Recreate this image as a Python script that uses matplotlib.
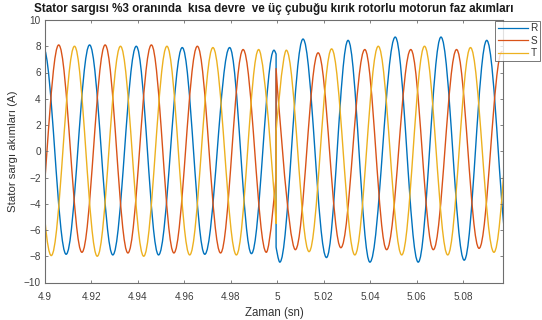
import matplotlib
matplotlib.use("Agg")
import matplotlib.pyplot as plt
from matplotlib.path import Path
from matplotlib.patches import PathPatch
from matplotlib.lines import Line2D

# ---------------- data ----------------
# Extrema (and the jump at t~5.0) of each phase current: time [s], value [A]
R_t = [4.8993, 4.9091, 4.9192, 4.9292, 4.9393, 4.9489, 4.9591, 4.9688, 4.9795,
       4.9889, 4.9986, 4.9995, 4.9995, 5.0011, 5.0111, 5.0212, 5.0305, 5.0399,
       5.0508, 5.0607, 5.0705, 5.0805, 5.0902, 5.1000]
R_v = [7.9, -7.85, 8.1, -7.9, 8.0, -7.9, 7.9, -7.85, 7.9,
       -7.8, 7.7, 7.4, -7.3, -8.45, 8.55, -8.1, 8.45, -8.45,
       8.7, -8.45, 8.7, -8.3, 8.45, -8.1]

S_t = [4.8959, 4.9059, 4.9159, 4.9259, 4.9357, 4.9458, 4.9555, 4.9656, 4.9756,
       4.9853, 4.9953, 4.9995, 4.9995, 5.0078, 5.0176, 5.0274, 5.0377, 5.0471,
       5.0575, 5.0672, 5.0772, 5.0869, 5.0968]
S_v = [-7.8, 8.1, -7.7, 8.1, -7.75, 8.1, -7.75, 8.0, -7.75,
       7.75, -7.7, -1.9, 6.3, -7.5, 7.5, -7.35, 7.75, -7.5,
       7.75, -7.5, 7.75, -7.4, 7.6]

T_t = [4.8925, 4.9027, 4.9127, 4.9225, 4.9325, 4.9425, 4.9525, 4.9623, 4.9723,
       4.9824, 4.9920, 4.9995, 4.9995, 5.0039, 5.0137, 5.0234, 5.0334, 5.0435,
       5.0536, 5.0634, 5.0734, 5.0832, 5.0933, 5.1032]
T_v = [8.0, -7.95, 8.0, -8.0, 8.0, -8.0, 8.0, -7.9, 7.9,
       -7.9, 7.75, -5.5, 1.5, 7.7, -7.65, 7.8, -7.9, 8.0,
       -7.9, 8.0, -7.9, 7.9, -7.7, 7.8]

series_names = ["R", "S", "T"]
xticks = [4.9, 4.92, 4.94, 4.96, 4.98, 5.0, 5.02, 5.04, 5.06, 5.08]
xticklabels = ["4.9", "4.92", "4.94", "4.96", "4.98", "5", "5.02", "5.04", "5.06", "5.08"]
yticks = [-10, -8, -6, -4, -2, 0, 2, 4, 6, 8, 10]

title = "Stator sargısı %3 oranında  kısa devre  ve üç çubuğu kırık rotorlu motorun faz akımları"
xlabel = "Zaman (sn)"
ylabel = "Stator sargı akımları (A)"

# ---------------- drawing ----------------
plt.rcParams["font.family"] = ["Liberation Sans", "DejaVu Sans"]

colors = ["#0072BD", "#D95319", "#EDB120"]


def wave_path(ts, vs, a=0.363):
    """Smooth curve through the extrema (Bezier, horizontal tangents at extrema)."""
    n = len(ts)

    def is_ext(i):
        if i > 0 and ts[i] == ts[i - 1]:
            return False
        if i < n - 1 and ts[i] == ts[i + 1]:
            return False
        return True

    verts = [(ts[0], vs[0])]
    codes = [Path.MOVETO]
    for i in range(n - 1):
        t0, v0, t1, v1 = ts[i], vs[i], ts[i + 1], vs[i + 1]
        if t1 == t0:
            verts.append((t1, v1))
            codes.append(Path.LINETO)
            continue
        dt = t1 - t0
        c1 = (t0 + a * dt, v0) if is_ext(i) else (t0, v0)
        c2 = (t1 - a * dt, v1) if is_ext(i + 1) else (t1, v1)
        verts += [c1, c2, (t1, v1)]
        codes += [Path.CURVE4] * 3
    return Path(verts, codes)


W, H = 542, 320
fig = plt.figure(figsize=(W / 100, H / 100), dpi=100)
ax = fig.add_axes([45 / W, 1 - 282.5 / H, (503 - 45) / W, (282.5 - 20) / H])

handles = []
for ts, vs, c, name in zip([R_t, S_t, T_t], [R_v, S_v, T_v], colors, series_names):
    ax.add_patch(PathPatch(wave_path(ts, vs), fill=False, edgecolor=c, lw=1.0,
                           joinstyle="round", capstyle="round"))
    handles.append(Line2D([], [], color=c, lw=0.9, label=name))

ax.set_xlim(4.9, 5.0972)
ax.set_ylim(-10, 10)
ax.set_xticks(xticks)
ax.set_xticklabels(xticklabels)
ax.set_yticks(yticks)

for s in ax.spines.values():
    s.set_color("#6e6e6e")
    s.set_linewidth(0.8)
ax.tick_params(direction="in", top=True, right=True, length=2.5, width=0.6,
               color="#6e6e6e", labelcolor="#404040", labelsize=7.2)
ax.tick_params(axis="x", pad=6.5)
ax.tick_params(axis="y", pad=3)

ax.set_title(title, fontsize=8.4, fontweight="bold", color="#1a1a1a", pad=5.5)
ax.set_xlabel(xlabel, fontsize=8.3, color="#333333")
ax.set_ylabel(ylabel, fontsize=8.2, color="#333333")
ax.xaxis.set_label_coords(0.5, -0.092)
ax.yaxis.set_label_coords(-0.058, 0.5)

leg = fig.legend(handles=handles, loc="upper left",
                 bbox_to_anchor=(495 / W, 1 - 20.5 / H), bbox_transform=fig.transFigure,
                 fontsize=7.2, frameon=True, fancybox=False, borderpad=0.25,
                 labelspacing=0.25, handlelength=3.0, handletextpad=0.3,
                 borderaxespad=0.0)
leg.get_frame().set_edgecolor("#555555")
leg.get_frame().set_linewidth(0.7)
for t in leg.get_texts():
    t.set_color("#333333")

fig.savefig("out.png", dpi=100, facecolor="white")
